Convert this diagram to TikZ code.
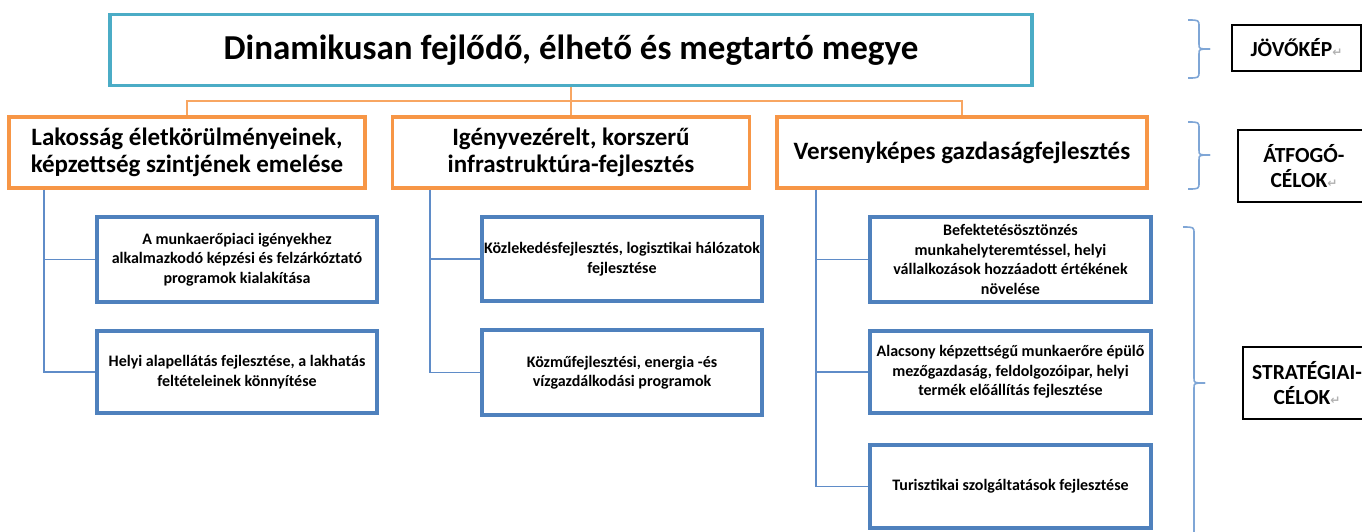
\documentclass[tikz,border=0pt]{standalone}
\usepackage{fontspec}
\setmainfont{Carlito}
\newfontfamily\symf{DejaVu Sans}
\definecolor{cTeal}{HTML}{4BACC6}
\definecolor{cOrange}{HTML}{F79646}
\definecolor{cBlue}{HTML}{4F81BD}
\definecolor{cLine}{HTML}{5F8CC8}
\definecolor{cBrace}{HTML}{7FA6D6}
\newcommand{\retmark}{{\symf\fontsize{12}{12}\selectfont\color{gray!60}↵}}
\newcommand{\mybrace}[6]{%
  \draw[bracestyle] (#1,#4) .. controls (#2,#4) .. (#2,#4+7) -- (#2,#5-5) .. controls (#2,#5) .. (#3,#5);
  \draw[bracestyle] (#1,#6) .. controls (#2,#6) .. (#2,#6-7) -- (#2,#5+5) .. controls (#2,#5) .. (#3,#5);}
\begin{document}
\begin{tikzpicture}[x=1pt,y=-1pt,
  wh/.style 2 args={minimum width=#1pt,minimum height=#2pt},
  box/.style={draw,align=center,inner sep=2pt,fill=white},
  topbox/.style={box,draw=cTeal,line width=3.5pt,font=\bfseries\fontsize{35}{40}\selectfont},
  obox/.style={box,draw=cOrange,line width=3.5pt,font=\bfseries\fontsize{25}{27.5}\selectfont},
  bbox/.style={box,draw=cBlue,line width=3.5pt,font=\bfseries\fontsize{16}{19.5}\selectfont},
  lbox/.style={box,draw=black,line width=1.2pt,font=\bfseries\fontsize{21.5}{25}\selectfont},
  oline/.style={draw=cOrange!85,line width=1.2pt},
  bline/.style={draw=cLine,line width=1.2pt},
  bracestyle/.style={draw=cBrace,line width=1.6pt}]
\useasboundingbox (0,0) rectangle (1362,531);

% vision
\node[topbox,wh={922}{71}] (top) at (571,50) {Dinamikusan fejlődő, élhető és megtartó megye};

% overall goals
\node[obox,wh={356}{71}] (o1) at (187,152.5) {Lakosság életkörülményeinek,\\képzettség szintjének emelése};
\node[obox,wh={357}{71}] (o2) at (571,152.5) {Igényvezérelt, korszerű\\infrastruktúra-fejlesztés};
\node[obox,wh={370}{71}] (o3) at (962,152.5) {Versenyképes gazdaságfejlesztés};

% strategic goals
\node[bbox,wh={280}{85}] (b1a) at (237,259.5) {A munkaerőpiaci igényekhez\\alkalmazkodó képzési és felzárkóztató\\programok kialakítása};
\node[bbox,wh={280}{82}] (b1b) at (237,372) {Helyi alapellátás fejlesztése, a lakhatás\\feltételeinek könnyítése};
\node[bbox,wh={280}{84}] (b2a) at (622,259) {Közlekedésfejlesztés, logisztikai hálózatok\\fejlesztése};
\node[bbox,wh={280}{85}] (b2b) at (622,372.5) {Közműfejlesztési, energia -és\\vízgazdálkodási programok};
\node[bbox,wh={281}{85}] (b3a) at (1010.5,259.5) {Befektetésösztönzés\\munkahelyteremtéssel, helyi\\vállalkozások hozzáadott értékének\\növelése};
\node[bbox,wh={281}{82}] (b3b) at (1010.5,372) {Alacsony képzettségű munkaerőre épülő\\mezőgazdaság, feldolgozóipar, helyi\\termék előállítás fejlesztése};
\node[bbox,wh={281}{83}] (b3c) at (1010.5,486.5) {Turisztikai szolgáltatások fejlesztése};

% labels
\node[lbox,wh={129}{46}] (jov) at (1296.5,48) {JÖVŐKÉP\retmark};
\node[lbox,wh={132}{72}] (atf) at (1304,166) {ÁTFOGÓ-\\CÉLOK\retmark};
\node[lbox,wh={128}{72}] (str) at (1307,383) {STRATÉGIAI-\\CÉLOK\retmark};

% orange connectors
\coordinate (oj) at (571,101);
\draw[oline] (top.south) -- (oj);
\draw[oline] (oj) -| (o1.north);
\draw[oline] (oj) -| (o3.north);
\draw[oline] (oj) -- (o2.north);

% blue connectors
\coordinate (t1) at (44,0);
\coordinate (t2) at (430,0);
\coordinate (t3) at (816,0);
\draw[bline] (o1.south -| t1) |- (b1a.west);
\draw[bline] (o1.south -| t1) |- (b1b.west);
\draw[bline] (o2.south -| t2) |- (b2a.west);
\draw[bline] (o2.south -| t2) |- (b2b.west);
\draw[bline] (o3.south -| t3) |- (b3a.west);
\draw[bline] (o3.south -| t3) |- (b3b.west);
\draw[bline] (o3.south -| t3) |- (b3c.west);

% braces
\mybrace{1188}{1199}{1210}{20}{49}{78}
\mybrace{1188}{1199}{1210}{122}{155}{189}
\mybrace{1183}{1194}{1205}{227}{383}{548}
\end{tikzpicture}
\end{document}
